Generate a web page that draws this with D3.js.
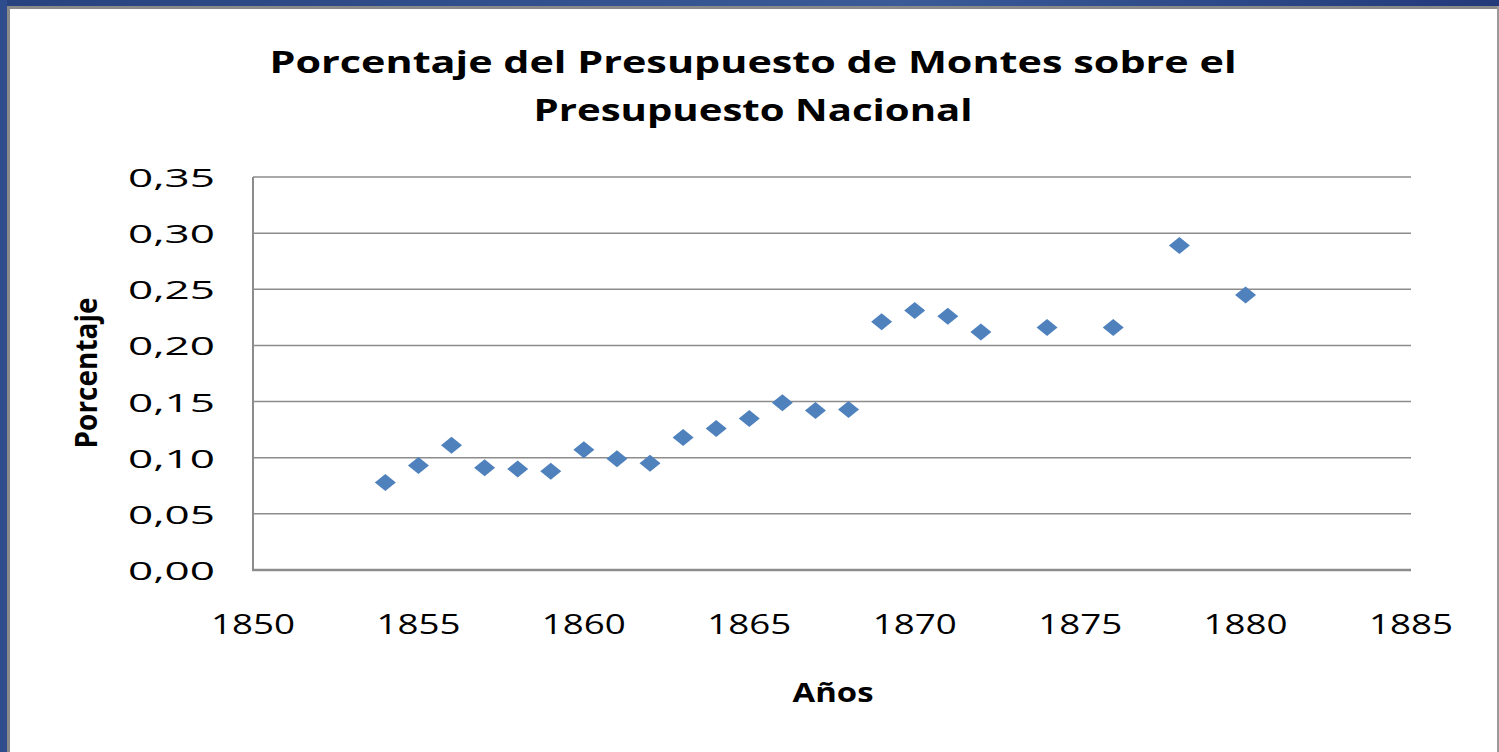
<!DOCTYPE html>
<html lang="es">
<head>
    <meta charset="UTF-8">
    <title>Porcentaje del Presupuesto de Montes</title>
    <script src="https://d3js.org/d3.v7.min.js"></script>
    <style>
        body {
            margin: 0;
            padding: 0;
            background: #fff;
            overflow: hidden;
        }

        #chart {
            display: block;
        }

        text {
            font-family: "Open Sans", "DejaVu Sans", sans-serif;
            fill: #000;
        }
    </style>
</head>
<body>
<svg id="chart" width="1499" height="752"></svg>

<script>
    // data
    var years = [1854, 1855, 1856, 1857, 1858, 1859, 1860, 1861, 1862, 1863, 1864, 1865,
                 1866, 1867, 1868, 1869, 1870, 1871, 1872, 1874, 1876, 1878, 1880];
    var percentages = [0.078, 0.093, 0.111, 0.091, 0.090, 0.088, 0.107, 0.099, 0.095, 0.118, 0.126, 0.135,
                       0.149, 0.142, 0.143, 0.221, 0.231, 0.226, 0.212, 0.216, 0.216, 0.289, 0.245];
    var xTicks = [1850, 1855, 1860, 1865, 1870, 1875, 1880, 1885];
    var yTicks = [0, 0.05, 0.10, 0.15, 0.20, 0.25, 0.30, 0.35];
    var titleLines = ["Porcentaje del Presupuesto de Montes sobre el", "Presupuesto Nacional"];

    var svg = d3.select("#chart"),
        width = +svg.attr("width"),
        height = +svg.attr("height");

    // slide frame: blue band with a grey inner edge
    var grad = svg.append("defs").append("linearGradient")
        .attr("id", "band")
        .attr("x1", "0").attr("x2", "1").attr("y1", "0").attr("y2", "0");
    grad.append("stop").attr("offset", "0").attr("stop-color", "#27427f");
    grad.append("stop").attr("offset", "0.6").attr("stop-color", "#3a5a98");
    grad.append("stop").attr("offset", "1").attr("stop-color", "#22397a");

    svg.append("rect").attr("x", 0).attr("y", 0).attr("width", width).attr("height", 6).attr("fill", "url(#band)");
    svg.append("rect").attr("x", 0).attr("y", 0).attr("width", 7).attr("height", height).attr("fill", "#2f4c8c");
    svg.append("rect").attr("x", 7).attr("y", 6).attr("width", width - 7).attr("height", 3).attr("fill", "#8a8a8a");
    svg.append("rect").attr("x", 7).attr("y", 6).attr("width", 3).attr("height", height - 6).attr("fill", "#8a8a8a");
    svg.append("rect").attr("x", width - 2).attr("y", 6).attr("width", 2).attr("height", height - 6).attr("fill", "#9a9a9a");

    // plot area
    var x = d3.scaleLinear().domain([1850, 1885]).range([253, 1411]);
    var y = d3.scaleLinear().domain([0, 0.35]).range([570, 177]);

    var fmt = function(d) { return d3.format(".2f")(d).replace(".", ","); };

    // gridlines
    svg.append("g")
        .selectAll("line")
        .data(yTicks.filter(function(d) { return d > 0; }))
        .enter().append("line")
        .attr("x1", x(1850)).attr("x2", x(1885))
        .attr("y1", function(d) { return y(d); })
        .attr("y2", function(d) { return y(d); })
        .attr("stroke", "#8c8c8c")
        .attr("stroke-width", 1.5);

    // axes lines
    svg.append("line")
        .attr("x1", x(1850)).attr("x2", x(1850))
        .attr("y1", y(0.35)).attr("y2", y(0))
        .attr("stroke", "#8c8c8c").attr("stroke-width", 2);
    svg.append("line")
        .attr("x1", x(1850) - 1).attr("x2", x(1885))
        .attr("y1", y(0)).attr("y2", y(0))
        .attr("stroke", "#8c8c8c").attr("stroke-width", 2.5);

    // y tick labels
    svg.append("g")
        .selectAll("text")
        .data(yTicks)
        .enter().append("text")
        .attr("x", 215)
        .attr("y", function(d) { return y(d) + 10; })
        .attr("text-anchor", "end")
        .attr("font-size", 26)
        .attr("textLength", 87)
        .attr("lengthAdjust", "spacingAndGlyphs")
        .text(fmt);

    // x tick labels
    svg.append("g")
        .selectAll("text")
        .data(xTicks)
        .enter().append("text")
        .attr("x", function(d) { return x(d); })
        .attr("y", 634)
        .attr("text-anchor", "middle")
        .attr("font-size", 28)
        .attr("textLength", 84)
        .attr("lengthAdjust", "spacingAndGlyphs")
        .text(function(d) { return d; });

    // markers (diamonds, slightly wider than tall)
    var pts = years.map(function(d, i) { return { year: d, value: percentages[i] }; });
    svg.append("g")
        .selectAll("path")
        .data(pts)
        .enter().append("path")
        .attr("d", function(d) {
            var cx = x(d.year), cy = y(d.value);
            return "M" + (cx - 10.5) + "," + cy + "L" + cx + "," + (cy - 8.5) +
                   "L" + (cx + 10.5) + "," + cy + "L" + cx + "," + (cy + 8.5) + "Z";
        })
        .attr("fill", "#4f81bd");

    // title
    svg.append("text")
        .attr("x", 753).attr("y", 73)
        .attr("text-anchor", "middle")
        .attr("font-size", 31).attr("font-weight", "bold")
        .attr("textLength", 967).attr("lengthAdjust", "spacingAndGlyphs")
        .text(titleLines[0]);
    svg.append("text")
        .attr("x", 753).attr("y", 121)
        .attr("text-anchor", "middle")
        .attr("font-size", 31).attr("font-weight", "bold")
        .attr("textLength", 439).attr("lengthAdjust", "spacingAndGlyphs")
        .text(titleLines[1]);

    // axis titles
    svg.append("text")
        .attr("transform", "translate(97,373) rotate(-90)")
        .attr("text-anchor", "middle")
        .attr("font-size", 30).attr("font-weight", "bold")
        .attr("textLength", 151).attr("lengthAdjust", "spacingAndGlyphs")
        .text("Porcentaje");
    svg.append("text")
        .attr("x", 833).attr("y", 702)
        .attr("text-anchor", "middle")
        .attr("font-size", 27).attr("font-weight", "bold")
        .attr("textLength", 81).attr("lengthAdjust", "spacingAndGlyphs")
        .text("Años");
</script>
</body>
</html>
